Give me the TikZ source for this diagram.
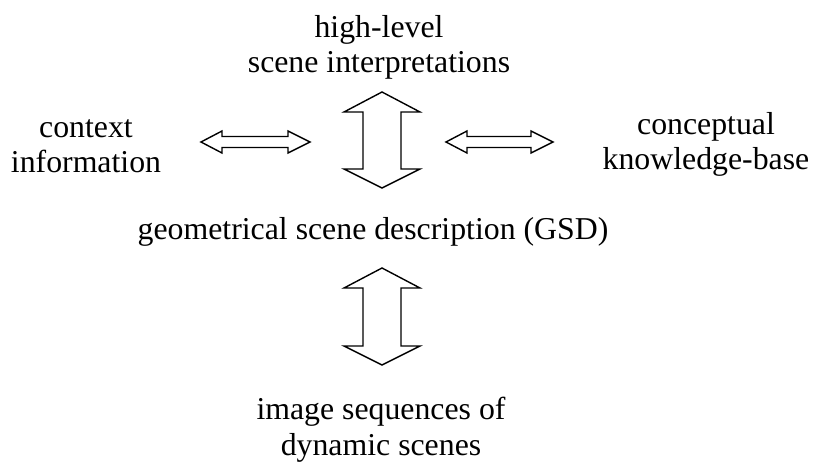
\documentclass[tikz,border=0pt]{standalone}
\usepackage{fontspec}
\setmainfont{Liberation Serif}
\usetikzlibrary{calc,positioning}

\tikzset{
    label text/.style={align=center, inner sep=0pt, anchor=base, font=\fontsize{31.8}{35.5}\selectfont},
    block arrow/.style={draw=black, fill=white, line width=1.4pt, line join=miter},
}

\begin{document}
\begin{tikzpicture}[x=1pt,y=-1pt]
        \useasboundingbox (0,0) rectangle (813,462);

        % texts (base = last line)
        \node[label text] (high)    at (379,73)  {high-level\\scene interpretations};
        \node[label text] (context) at (86,173)  {context\\information};
        \node[label text] (concept) at (706,170) {conceptual\\knowledge-base};
        \node[label text] (gsd)     at (373,240) {geometrical scene description (GSD)};
        \node[label text] (image)   at (381,455) {image sequences of\\dynamic scenes};

        % vertical double arrows
        \foreach \tip/\len in {92/57, 268/58}
        {
            \draw[block arrow] (382,\tip) -- ++(38,20) -- ++(-19,0) -- ++(0,\len) -- ++(19,0)
                -- ++(-38,19) -- ++(-38,-19) -- ++(19,0) -- ++(0,-\len) -- ++(-19,0) -- cycle;
        };

        % horizontal double arrows
        \foreach \tip/\len in {201/66, 446/64}
        {
            \draw[block arrow] (\tip,142) -- ++(21,-11) -- ++(0,5.5) -- ++(\len,0) -- ++(0,-5.5)
                -- ++(22,11) -- ++(-22,11) -- ++(0,-5.5) -- ++(-\len,0) -- ++(0,5.5) -- cycle;
        };
\end{tikzpicture}
\end{document}
